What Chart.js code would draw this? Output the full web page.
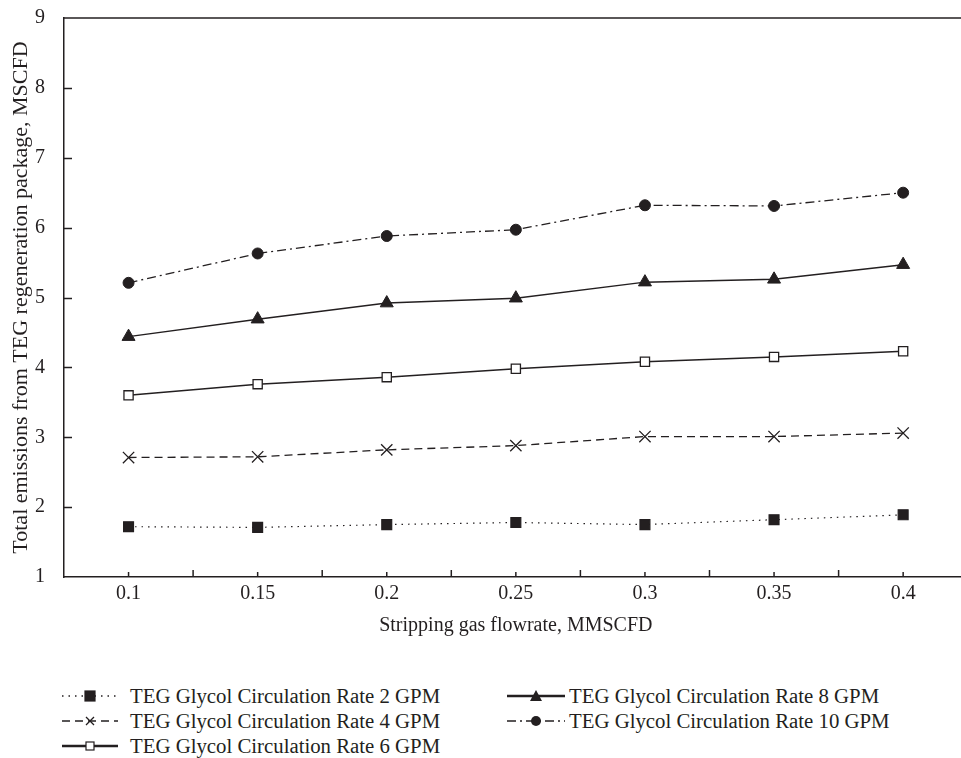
<!DOCTYPE html>
<html>
<head>
<meta charset="utf-8">
<script src="https://cdn.jsdelivr.net/npm/chart.js@4.4.1/dist/chart.umd.min.js"></script>
<style>
  html, body { margin: 0; padding: 0; background: #fff; overflow: hidden; }
  #wrap { position: relative; width: 961px; height: 758px; overflow: hidden; }
  #cv { position: absolute; left: 0; top: 0; }
  .leg { position: absolute; height: 26px; display: flex; align-items: center;
         font-family: 'Liberation Serif', 'Times New Roman', serif; font-size: 20.8px; color: #231f20; white-space: nowrap; }
  .leg svg { display: block; }
</style>
</head>
<body>
<div id="wrap">
  <canvas id="cv"></canvas>
</div>
<script>
// ---- data ----
const categories = ['0.1', '0.15', '0.2', '0.25', '0.3', '0.35', '0.4'];
const rate2GPM  = [1.72, 1.71, 1.75, 1.78, 1.75, 1.82, 1.89];
const rate4GPM  = [2.71, 2.72, 2.82, 2.88, 3.01, 3.01, 3.06];
const rate6GPM  = [3.60, 3.76, 3.86, 3.98, 4.08, 4.15, 4.23];
const rate8GPM  = [4.44, 4.69, 4.92, 4.99, 5.22, 5.26, 5.47];
const rate10GPM = [5.21, 5.63, 5.88, 5.97, 6.32, 6.31, 6.50];
const seriesLabels = [
  'TEG Glycol Circulation Rate 2 GPM',
  'TEG Glycol Circulation Rate 4 GPM',
  'TEG Glycol Circulation Rate 6 GPM',
  'TEG Glycol Circulation Rate 8 GPM',
  'TEG Glycol Circulation Rate 10 GPM'
];
const yTickMin = 1, yTickMax = 9, yTickStep = 1;
const xTitle = 'Stripping gas flowrate, MMSCFD';
const yTitle = 'Total emissions from TEG regeneration package, MSCFD';

const INK = '#231f20';
const FONT = "'Liberation Serif', 'Times New Roman', serif";

const styles = [
  { dash: [1.5, 5],      width: 1.2, point: 'rect',     radius: 7,   fill: INK,    lw: 1.2 },
  { dash: [8, 5],        width: 1.3, point: 'crossRot', radius: 8,   fill: INK,    lw: 1.3 },
  { dash: [],            width: 1.5, point: 'rect',     radius: 6.5, fill: '#fff', lw: 1.3 },
  { dash: [],            width: 1.5, point: 'triangle', radius: 7.5, fill: INK,    lw: 1   },
  { dash: [9, 4, 2, 4],  width: 1.3, point: 'circle',   radius: 5.5, fill: INK,    lw: 1   }
];
const values = [rate2GPM, rate4GPM, rate6GPM, rate8GPM, rate10GPM];

const datasets = values.map((v, i) => ({
  label: seriesLabels[i],
  data: v,
  borderColor: INK,
  borderWidth: styles[i].width,
  borderDash: styles[i].dash,
  pointStyle: styles[i].point,
  pointRadius: styles[i].radius,
  pointHoverRadius: styles[i].radius,
  pointBackgroundColor: styles[i].fill,
  pointBorderColor: INK,
  pointBorderWidth: styles[i].lw,
  fill: false,
  tension: 0
}));

const cv = document.getElementById('cv');
cv.width = 977; cv.height = 650;
cv.style.width = '977px'; cv.style.height = '650px';

const innerTicks = {
  id: 'innerTicks',
  afterDraw(chart) {
    const { ctx, chartArea: a, scales: { x, y } } = chart;
    ctx.save();
    ctx.strokeStyle = INK;
    ctx.lineWidth = 1.5;
    // top frame line
    ctx.beginPath();
    ctx.moveTo(a.left - 0.75, a.top);
    ctx.lineTo(chart.width, a.top);
    ctx.stroke();
    // y ticks inward
    for (let v = yTickMin + yTickStep; v < yTickMax; v += yTickStep) {
      const py = Math.round(y.getPixelForValue(v)) + 0.5;
      ctx.beginPath();
      ctx.moveTo(a.left, py);
      ctx.lineTo(a.left + 8, py);
      ctx.stroke();
    }
    // x ticks inward: short at categories, tall at boundaries
    const n = categories.length;
    for (let i = 0; i < n; i++) {
      const px = x.getPixelForValue(i);
      ctx.beginPath();
      ctx.moveTo(px, a.bottom);
      ctx.lineTo(px, a.bottom - 5);
      ctx.stroke();
      if (i < n - 1) {
        const bx = (px + x.getPixelForValue(i + 1)) / 2;
        ctx.beginPath();
        ctx.moveTo(bx, a.bottom);
        ctx.lineTo(bx, a.bottom - 7);
        ctx.stroke();
      }
    }
    ctx.restore();
  }
};

const chart = new Chart(cv, {
  type: 'line',
  data: { labels: categories, datasets },
  options: {
    responsive: false,
    animation: false,
    devicePixelRatio: 1,
    layout: { padding: { top: 18, left: 0, right: 0, bottom: 0 } },
    plugins: { legend: { display: false }, tooltip: { enabled: false } },
    scales: {
      x: {
        type: 'category',
        offset: true,
        grid: { display: true, drawOnChartArea: false, drawTicks: false },
        border: { display: true, color: INK, width: 1.5 },
        ticks: { color: INK, font: { family: FONT, size: 20 }, padding: 5, maxRotation: 0 },
        title: { display: true, text: xTitle, color: INK, font: { family: FONT, size: 20 }, padding: { top: 0, bottom: 12 } },
        afterFit(s) { s.height = 73; s.paddingLeft = 0; s.paddingRight = 0; }
      },
      y: {
        min: yTickMin, max: yTickMax,
        grid: { display: true, drawOnChartArea: false, drawTicks: false },
        border: { display: true, color: INK, width: 1.5 },
        ticks: { stepSize: yTickStep, color: INK, font: { family: FONT, size: 20 }, padding: 19 },
        title: { display: true, text: yTitle, color: INK, font: { family: FONT, size: 22 }, padding: { top: 8, bottom: 0 } },
        afterFit(s) { s.width = 64; s.paddingTop = 0; s.paddingBottom = 0; }
      }
    }
  },
  plugins: [innerTicks]
});

// ---- HTML legend built from datasets ----
const wrap = document.getElementById('wrap');
const legendPos = [
  { x: 62, y: 683 }, { x: 62, y: 708 }, { x: 62, y: 733 },
  { x: 507, y: 683 }, { x: 507, y: 708 }
];
const sampleW = [[56, 12], [56, 12], [56, 12], [58, 4], [58, 4]];
function markerSVG(st, cx, cy) {
  const f = st.fill === '#fff' ? '#fff' : INK;
  if (st.point === 'rect') {
    const s = st.fill === '#fff' ? 8 : 10;
    return `<rect x="${cx - s/2}" y="${cy - s/2}" width="${s}" height="${s}" fill="${f}" stroke="${INK}" stroke-width="1.2"/>`;
  }
  if (st.point === 'crossRot') {
    return `<path d="M${cx-4} ${cy-4}L${cx+4} ${cy+4}M${cx+4} ${cy-4}L${cx-4} ${cy+4}" stroke="${INK}" stroke-width="1.3"/>`;
  }
  if (st.point === 'triangle') {
    return `<path d="M${cx} ${cy-6}L${cx+6} ${cy+5}L${cx-6} ${cy+5}Z" fill="${INK}"/>`;
  }
  return `<circle cx="${cx}" cy="${cy}" r="5" fill="${INK}"/>`;
}
datasets.forEach((ds, i) => {
  const st = styles[i];
  const p = legendPos[i];
  const w = sampleW[i][0], gap = sampleW[i][1];
  const lw = st.dash.length ? 1.3 : 2.5;
  const dash = st.dash.length ? `stroke-dasharray="${st.dash.join(' ')}"` : '';
  const svg = `<svg width="${w}" height="26" viewBox="0 0 ${w} 26">
    <line x1="0" y1="13" x2="${w}" y2="13" stroke="${INK}" stroke-width="${lw}" ${dash}/>
    ${markerSVG(st, w/2, 13)}</svg>`;
  const div = document.createElement('div');
  div.className = 'leg';
  div.style.left = p.x + 'px';
  div.style.top = p.y + 'px';
  div.innerHTML = svg + `<span style="margin-left:${gap}px">${ds.label}</span>`;
  wrap.appendChild(div);
});
</script>
</body>
</html>
